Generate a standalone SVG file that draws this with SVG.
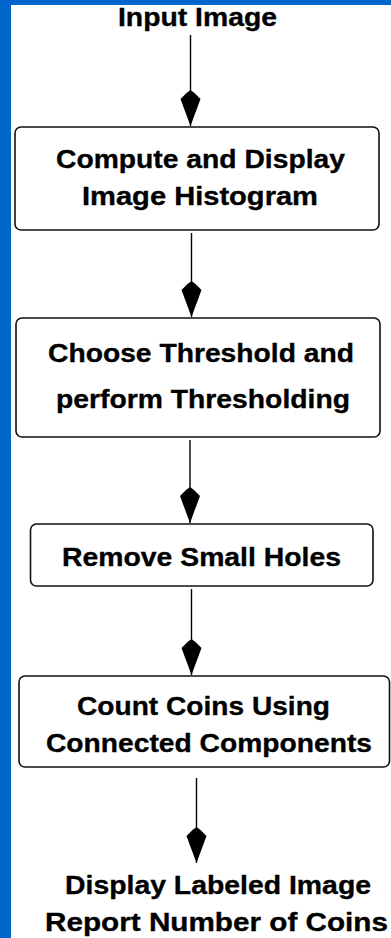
<svg xmlns="http://www.w3.org/2000/svg" width="391" height="938" viewBox="0 0 391 938">
  <style>
    .frame { fill: #0066cc; }
    .page { fill: #ffffff; }
    .box { fill: #ffffff; stroke: #111111; stroke-width: 1.6; }
    .edge { stroke: #000000; stroke-width: 1.4; fill: none; marker-end: url(#kite); }
    .lbl { font-family: "Liberation Sans", Arial, Helvetica, sans-serif; font-weight: bold; font-size: 26.5px; fill: #000000; stroke: #000000; stroke-width: 0.35; text-anchor: start; }
  </style>
  <defs>
    <!-- kite-shaped arrowhead: short point above, long taper to the tip -->
    <marker id="kite" markerUnits="userSpaceOnUse" orient="auto" viewBox="-37 -11 38 22" markerWidth="38" markerHeight="22" refX="0" refY="0">
      <path d="M0,0 L-27,-10 L-33,-4 L-36,0 L-33,4 L-27,10 Z" fill="#000000"/>
    </marker>
  </defs>

  <!-- blue frame with white page -->
  <rect class="frame" x="0" y="0" width="391" height="938"/>
  <rect class="page" x="11" y="5" width="380" height="933"/>

  <g id="connectors">
    <line class="edge" x1="190.5" y1="35" x2="190.5" y2="126"/>
    <line class="edge" x1="191.5" y1="233" x2="191.5" y2="317"/>
    <line class="edge" x1="190" y1="440" x2="190" y2="523"/>
    <line class="edge" x1="191.5" y1="589" x2="191.5" y2="675"/>
    <line class="edge" x1="196.5" y1="778" x2="196.5" y2="863"/>
  </g>

  <g id="input">
    <text class="lbl" x="118" y="26" textLength="159" lengthAdjust="spacingAndGlyphs">Input Image</text>
  </g>

  <g id="histogram">
    <rect class="box" x="15" y="127" width="364" height="103" rx="6"/>
    <text class="lbl" x="56" y="168" textLength="289" lengthAdjust="spacingAndGlyphs">Compute and Display</text>
    <text class="lbl" x="82" y="205" textLength="236" lengthAdjust="spacingAndGlyphs">Image Histogram</text>
  </g>

  <g id="threshold">
    <rect class="box" x="16" y="318" width="364" height="119" rx="6"/>
    <text class="lbl" x="48" y="362" textLength="306" lengthAdjust="spacingAndGlyphs">Choose Threshold and</text>
    <text class="lbl" x="56" y="408" textLength="294" lengthAdjust="spacingAndGlyphs">perform Thresholding</text>
  </g>

  <g id="holes">
    <rect class="box" x="30.5" y="524" width="342.5" height="62" rx="6"/>
    <text class="lbl" x="62" y="566" textLength="279" lengthAdjust="spacingAndGlyphs">Remove Small Holes</text>
  </g>

  <g id="count">
    <rect class="box" x="19" y="676" width="370.5" height="91" rx="6"/>
    <text class="lbl" x="77" y="715" textLength="253" lengthAdjust="spacingAndGlyphs">Count Coins Using</text>
    <text class="lbl" x="46" y="752" textLength="326" lengthAdjust="spacingAndGlyphs">Connected Components</text>
  </g>

  <g id="output">
    <text class="lbl" x="65" y="894" textLength="306" lengthAdjust="spacingAndGlyphs">Display Labeled Image</text>
    <text class="lbl" x="45" y="931" textLength="343" lengthAdjust="spacingAndGlyphs">Report Number of Coins</text>
  </g>
</svg>
